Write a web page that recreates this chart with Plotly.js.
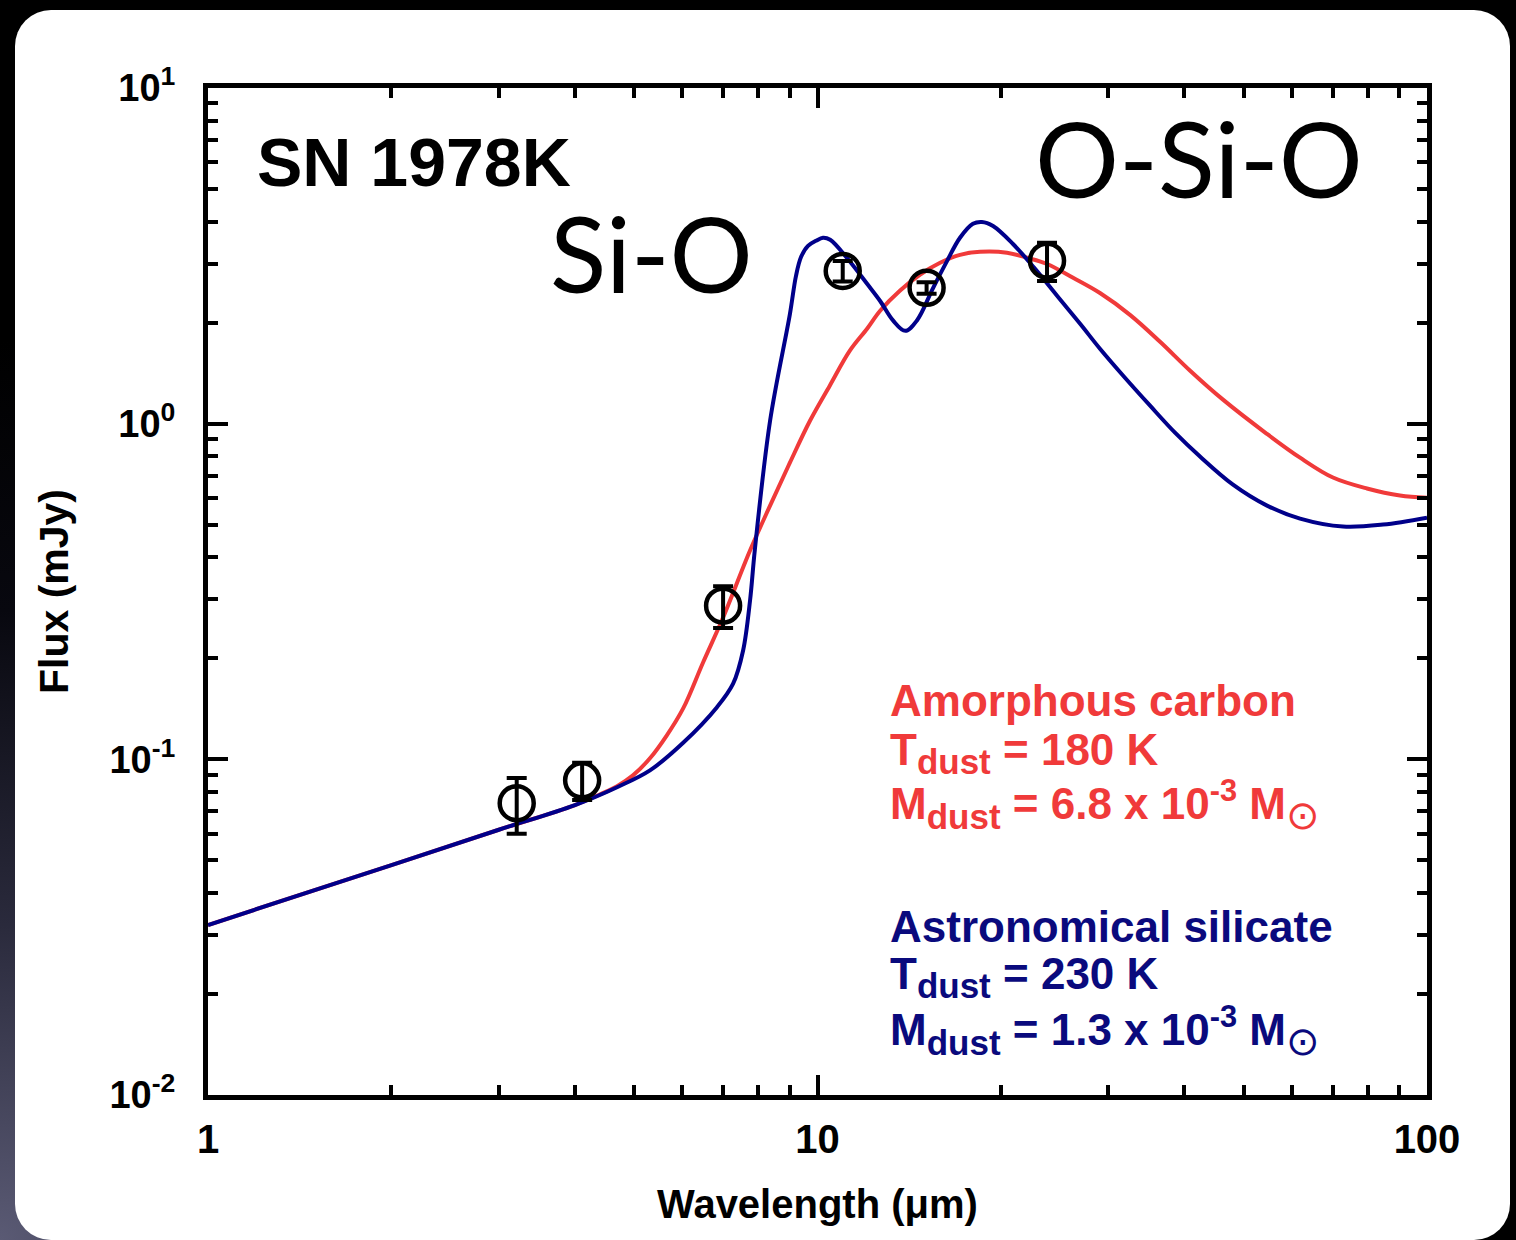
<!DOCTYPE html>
<html>
<head>
<meta charset="utf-8">
<script src="https://cdn.plot.ly/plotly-3.0.1.min.js"></script>
<style>
  html, body { margin:0; padding:0; width:1516px; height:1240px; overflow:hidden; background:#000; }
  #bg { position:absolute; left:0; top:0; width:1516px; height:1240px;
        background: radial-gradient(ellipse 900px 900px at 0% 100%, #5a5a74 0%, #2a2a3c 35%, #08080f 70%, #000 100%); }
  #card { position:absolute; left:15px; top:10px; width:1495px; height:1230px; background:#fff; border-radius:36px; }
  #plot { position:absolute; left:0; top:0; width:1516px; height:1240px; }
</style>
</head>
<body>
<div id="bg"></div>
<div id="card"></div>
<div id="plot"></div>
<script>
// ---- data ----
const obsWavelength = [3.21, 4.11, 7.0, 11.0, 15.1, 23.8];
const obsFlux       = [0.074, 0.0866, 0.287, 2.85, 2.54, 3.06];
const obsErr        = [0.014, 0.011, 0.041, 0.2, 0.1, 0.40];

const carbonWavelength = [1, 2, 3, 4, 4.40, 4.69, 4.98, 5.31, 5.66, 6.02, 6.49, 7.0, 7.75, 8.36, 9.01, 9.72, 10.48, 11.3, 12.06, 12.67, 13.65, 14.72, 15.89, 17.13, 18.48, 20.46, 22.07, 23.81, 26.26, 29.07, 32.56, 36.48, 40.87, 46.27, 54.6, 61.9, 70.1, 79.7, 90.3, 100];
const carbonFlux       = [0.0321, 0.0484, 0.0617, 0.0731, 0.0787, 0.0832, 0.0896, 0.1007, 0.1179, 0.1418, 0.1944, 0.2646, 0.419, 0.570, 0.765, 1.02, 1.30, 1.65, 1.918, 2.17, 2.49, 2.777, 3.015, 3.184, 3.25, 3.23, 3.12, 2.99, 2.72, 2.45, 2.11, 1.754, 1.438, 1.179, 0.933, 0.792, 0.691, 0.641, 0.611, 0.602];

const silicateWavelength = [1, 2, 3, 4, 4.69, 5.31, 6.02, 6.84, 7.27, 7.55, 7.75, 7.89, 8.36, 9.01, 9.22, 9.40, 9.647, 9.943, 10.21, 10.49, 11.17, 12.06, 12.67, 13.3, 13.93, 14.56, 15.48, 16.31, 17.13, 17.99, 18.61, 19.41, 20.93, 22.75, 24.72, 26.97, 29.07, 31.95, 35.13, 38.60, 42.42, 48.05, 54.64, 61.9, 72.8, 84.7, 100];
const silicateFlux       = [0.0321, 0.0484, 0.0617, 0.0731, 0.0826, 0.0927, 0.112, 0.143, 0.168, 0.211, 0.297, 0.419, 1.02, 2.12, 2.757, 3.141, 3.386, 3.505, 3.58, 3.53, 3.12, 2.61, 2.32, 2.03, 1.89, 2.03, 2.54, 3.05, 3.58, 3.94, 3.99, 3.88, 3.43, 2.893, 2.404, 1.984, 1.672, 1.370, 1.131, 0.940, 0.798, 0.658, 0.570, 0.5215, 0.4937, 0.5005, 0.525];

const xTickVals  = [1, 10, 100];
const xTickText  = ['1', '10', '100'];
const yTickVals  = [0.01, 0.1, 1, 10];
const yTickText  = ['10<sup>-2</sup>', '10<sup>-1</sup>', '10<sup>0</sup>', '10<sup>1</sup>'];

// minor tick positions (2..9 in each decade)
function minorTicks(d0, d1) {
  const out = [];
  for (let d = d0; d < d1; d++) for (let k = 2; k <= 9; k++) out.push(k * Math.pow(10, d));
  return out;
}

const RED = 'rgb(240,58,58)';
const BLUE = 'rgb(0,0,138)';
const TXTBLUE = 'rgb(10,10,125)';
const FONT = 'Liberation Sans, Arial, sans-serif';
const SUB = (t) => '<sub><span style="font-size:35px">' + t + '</span></sub>';
const SUN = '<sub><span style="font-weight:normal;font-size:40px">⊙</span></sub>';

const traces = [
  { x: carbonWavelength, y: carbonFlux, mode: 'lines', line: { color: RED, width: 4, shape: 'spline', smoothing: 1 }, hoverinfo: 'skip' },
  { x: silicateWavelength, y: silicateFlux, mode: 'lines', line: { color: BLUE, width: 4, shape: 'spline', smoothing: 1 }, hoverinfo: 'skip' },
  { x: obsWavelength, y: obsFlux, mode: 'markers',
    marker: { symbol: 'circle-open', size: 34, color: 'black', line: { width: 4.5, color: 'black' } },
    error_y: { type: 'data', array: obsErr, visible: true, color: 'black', thickness: 4, width: 10 } }
];

const axisCommon = {
  type: 'log', showline: true, linewidth: 5, linecolor: 'black', mirror: 'allticks',
  ticks: 'inside', ticklen: 20, tickwidth: 4, tickcolor: 'black',
  showgrid: false, zeroline: false, tickmode: 'array'
};

const layout = {
  width: 1516, height: 1240,
  paper_bgcolor: 'rgba(0,0,0,0)', plot_bgcolor: 'rgba(0,0,0,0)',
  margin: { l: 208, r: 89, t: 88, b: 145 },
  showlegend: false,
  font: { family: FONT, color: 'black' },
  xaxis: Object.assign({}, axisCommon, {
    range: [0, 2], tickvals: xTickVals, ticktext: xTickText,
    tickfont: { family: FONT, size: 40, weight: 'bold', color: 'black' },
    ticklabelstandoff: 5,
    minor: { tickmode: 'array', tickvals: minorTicks(0, 2), ticks: 'inside', ticklen: 10, tickwidth: 4, tickcolor: 'black', showgrid: false },
    title: { text: 'Wavelength (μm)', font: { family: FONT, size: 40, weight: 'bold', color: 'black' }, standoff: 31 }
  }),
  yaxis: Object.assign({}, axisCommon, {
    range: [-2, 1], tickvals: yTickVals, ticktext: yTickText,
    tickfont: { family: FONT, size: 38, weight: 'bold', color: 'black' },
    ticklabelstandoff: 20,
    minor: { tickmode: 'array', tickvals: minorTicks(-2, 1), ticks: 'inside', ticklen: 10, tickwidth: 4, tickcolor: 'black', showgrid: false },
    title: { text: 'Flux (mJy)', font: { family: FONT, size: 41, weight: 'bold', color: 'black' }, standoff: 30 }
  }),
  annotations: [
    { text: 'SN 1978K', xref: 'paper', yref: 'paper', x: 0.0385, y: 0.927, xanchor: 'left', yanchor: 'middle', showarrow: false,
      font: { family: FONT, size: 68, weight: 'bold', color: 'black' } },
    { text: 'Si-O', xref: 'paper', yref: 'paper', x: 0.279, y: 0.837, xanchor: 'left', yanchor: 'middle', showarrow: false,
      font: { family: 'Lato, sans-serif', size: 104, color: 'black' } },
    { text: 'O-Si-O', xref: 'paper', yref: 'paper', x: 0.677, y: 0.931, xanchor: 'left', yanchor: 'middle', showarrow: false,
      font: { family: 'Lato, sans-serif', size: 105, color: 'black' } },

    { text: 'Amorphous carbon', xref: 'paper', yref: 'paper', x: 0.558, y: 0.392, xanchor: 'left', yanchor: 'middle', showarrow: false,
      font: { family: FONT, size: 44, weight: 'bold', color: RED } },
    { text: 'T' + SUB('dust') + ' = 180 K', xref: 'paper', yref: 'paper', x: 0.558, y: 0.340, xanchor: 'left', yanchor: 'middle', showarrow: false,
      font: { family: FONT, size: 44, weight: 'bold', color: RED } },
    { text: 'M' + SUB('dust') + ' = 6.8 x 10<sup>-3</sup> M' + SUN, xref: 'paper', yref: 'paper', x: 0.558, y: 0.288, xanchor: 'left', yanchor: 'middle', showarrow: false,
      font: { family: FONT, size: 44, weight: 'bold', color: RED } },

    { text: 'Astronomical silicate', xref: 'paper', yref: 'paper', x: 0.558, y: 0.167, xanchor: 'left', yanchor: 'middle', showarrow: false,
      font: { family: FONT, size: 44, weight: 'bold', color: TXTBLUE } },
    { text: 'T' + SUB('dust') + ' = 230 K', xref: 'paper', yref: 'paper', x: 0.558, y: 0.117, xanchor: 'left', yanchor: 'middle', showarrow: false,
      font: { family: FONT, size: 44, weight: 'bold', color: TXTBLUE } },
    { text: 'M' + SUB('dust') + ' = 1.3 x 10<sup>-3</sup> M' + SUN, xref: 'paper', yref: 'paper', x: 0.558, y: 0.064, xanchor: 'left', yanchor: 'middle', showarrow: false,
      font: { family: FONT, size: 44, weight: 'bold', color: TXTBLUE } }
  ]
};

Plotly.newPlot('plot', traces, layout, { displayModeBar: false, staticPlot: true });
</script>
</body>
</html>
